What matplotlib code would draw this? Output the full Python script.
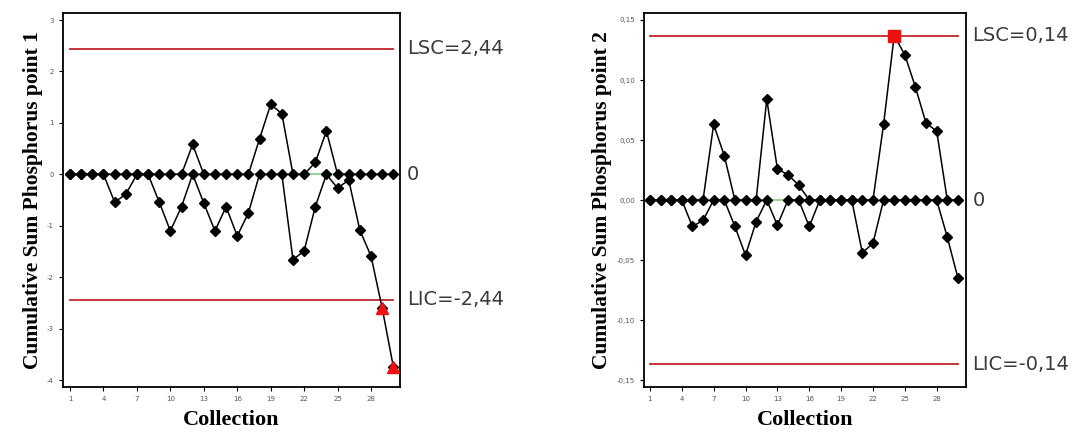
import numpy as np
import matplotlib
matplotlib.use("Agg")
import matplotlib.pyplot as plt

collection = list(range(1, 31))

# point 1 : upper and lower cumulative sums
cp1 = [0, 0, 0, 0, 0, 0, 0, 0, 0, 0, 0, 0.58, 0, 0, 0, 0, 0, 0.69, 1.36, 1.18,
       0, 0, 0.23, 0.84, 0, 0, 0, 0, 0, 0]
cm1 = [0, 0, 0, 0, -0.54, -0.39, 0, 0, -0.54, -1.1, -0.63, 0, -0.56, -1.1, -0.63, -1.2, -0.75, 0, 0, 0,
       -1.66, -1.49, -0.63, 0, -0.27, -0.11, -1.09, -1.59, -2.6, -3.74]
lsc1, lic1 = 2.44, -2.44
lab1 = ["LSC=2,44", "0", "LIC=-2,44"]
yt1 = [3, 2, 1, 0, -1, -2, -3, -4]
ytl1 = ["3", "2", "1", "0", "-1", "-2", "-3", "-4"]
out1 = [29, 30]   # red triangles (lower series)

# point 2
cp2 = [0, 0, 0, 0, 0, 0, 0.063, 0.037, 0, 0, 0, 0.084, 0.026, 0.021, 0.0125, 0, 0, 0, 0, 0,
       0, 0, 0.063, 0.137, 0.121, 0.094, 0.064, 0.0575, 0, 0]
cm2 = [0, 0, 0, 0, -0.022, -0.017, 0, 0, -0.022, -0.046, -0.018, 0, -0.021, 0, 0, -0.022, 0, 0, 0, 0,
       -0.044, -0.036, 0, 0, 0, 0, 0, 0, -0.031, -0.065]
lsc2, lic2 = 0.137, -0.137
lab2 = ["LSC=0,14", "0", "LIC=-0,14"]
yt2 = [0.15, 0.10, 0.05, 0.0, -0.05, -0.10, -0.15]
ytl2 = ["0,15", "0,10", "0,05", "0,00", "-0,05", "-0,10", "-0,15"]
out2 = [24]       # red square (upper series)

xt = [1, 4, 7, 10, 13, 16, 19, 22, 25, 28]

fig = plt.figure(figsize=(10.75, 4.33), dpi=100)
ax1 = fig.add_axes([0.0586, 0.1062, 0.3135, 0.8637])
ax2 = fig.add_axes([0.599, 0.1062, 0.2995, 0.8637])


def draw(ax, cp, cm, lsc, lic, labels, yt, ytl, ylim, xlim, ylab, red_idx, red_series, red_marker):
    x = np.array(collection)
    ax.plot(x, [0] * len(x), color="#7fd07f", lw=1.2, zorder=1)
    ax.plot(x, [lsc] * len(x), color="#c0262b", lw=1.3, zorder=1)
    ax.plot(x, [lic] * len(x), color="#c0262b", lw=1.3, zorder=1)
    ax.plot(x, cp, color="black", lw=1.1, marker="D", ms=5.5, zorder=3)
    ax.plot(x, cm, color="black", lw=1.1, marker="D", ms=5.5, zorder=3)
    vals = np.array(red_series)
    idx = np.array(red_idx)
    ax.plot(idx, vals[idx - 1], ls="none", marker=red_marker, color="#ee1111", ms=8, zorder=4)
    ax.set_xlim(*xlim)
    ax.set_ylim(*ylim)
    ax.set_xticks(xt)
    ax.set_xticklabels([str(v) for v in xt])
    ax.set_yticks(yt)
    ax.set_yticklabels(ytl)
    ax.tick_params(direction="out", length=3, width=0.8, labelsize=5, labelcolor="#555555")
    for s in ax.spines.values():
        s.set_linewidth(1.3)
    ax.set_xlabel("Collection", family="Liberation Serif", fontweight="bold", fontsize=16, labelpad=6)
    ax.set_ylabel(ylab, family="Liberation Serif", fontweight="bold", fontsize=15.5, labelpad=3)
    tr = ax.get_yaxis_transform()
    for v, t in zip([lsc, 0, lic], labels):
        ax.text(1.02, v, t, transform=tr, ha="left", va="center", fontsize=14,
                color="#3a3a3a", clip_on=False)


draw(ax1, cp1, cm1, lsc1, lic1, lab1, yt1, ytl1, (-4.136, 3.136), (0.37, 30.6),
     "Cumulative Sum Phosphorus point 1", out1, cm1, "^")
draw(ax2, cp2, cm2, lsc2, lic2, lab2, yt2, ytl2, (-0.1558, 0.1558), (0.435, 30.75),
     "Cumulative Sum Phosphorus point 2", out2, cp2, "s")

fig.savefig("out.png", dpi=100)
